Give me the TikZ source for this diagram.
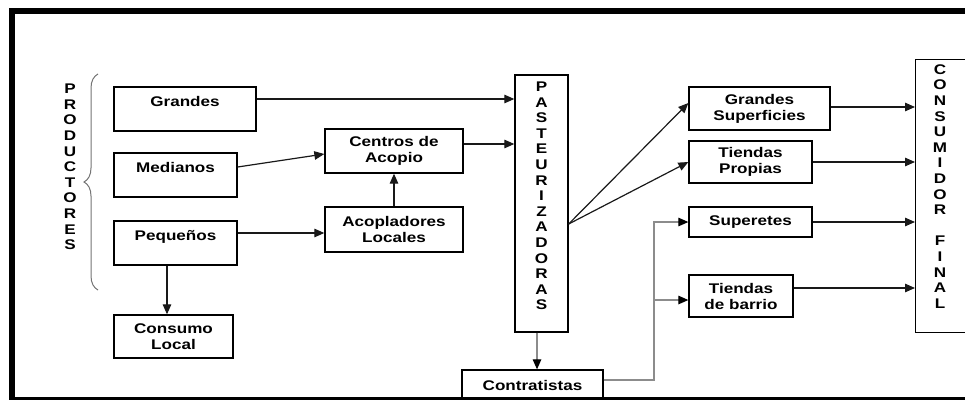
\documentclass[tikz,border=0pt]{standalone}
\usepackage{fontspec}
\setmainfont{Liberation Sans}[FakeStretch=1.22]
\usetikzlibrary{arrows.meta,decorations.pathreplacing}
\begin{document}
\begin{tikzpicture}[x=1pt,y=-1pt,
  box/.style={draw=black, line width=1.3pt, inner sep=0pt, align=center,
              font=\bfseries\fontsize{14}{16}\selectfont},
  vtext/.style={align=center, inner sep=0pt,
                font=\bfseries\fontsize{14}{15.6}\selectfont},
  arr/.style={draw=black!90, line width=1.2pt, -{Triangle[length=10pt,width=8.5pt]}},
  garr/.style={draw=black!45, line width=1.2pt, -{Triangle[length=10pt,width=8.5pt,color=black]}},
  gline/.style={draw=black!45, line width=1.2pt}]
\useasboundingbox (0,0) rectangle (965,399);

% producers
\node[vtext] (prod) at (70,167) {P\\R\\O\\D\\U\\C\\T\\O\\R\\E\\S};
\draw[decorate, decoration={brace, amplitude=14pt}, draw=black!55, line width=1pt]
  (98,290) -- (98,74);
\node[box, minimum width=142, minimum height=44] (gra) at (185,109) {Grandes\\\mbox{}};
\node[box, minimum width=123, minimum height=44] (med) at (175.5,175) {Medianos\\\mbox{}};
\node[box, minimum width=123, minimum height=44] (peq) at (175.5,243) {Pequeños\\\mbox{}};
\node[box, minimum width=119, minimum height=43] (cons) at (173.5,336.5) {Consumo\\Local};

% collection
\node[box, minimum width=138, minimum height=44] (cen) at (394,151) {Centros de\\Acopio};
\node[box, minimum width=138, minimum height=45] (aco) at (394,229.5) {Acopladores\\Locales};

% processing
\node[box, minimum width=53, minimum height=257] (pas) at (541.5,203.5) {};
\node[vtext] (past) at (541.5,196) {P\\A\\S\\T\\E\\U\\R\\I\\Z\\A\\D\\O\\R\\A\\S};
\node[box, minimum width=141, minimum height=30] (con) at (532.5,385) {Contratistas};

% retail
\node[box, minimum width=141, minimum height=43] (gsup) at (759.5,108.5) {Grandes\\Superficies};
\node[box, minimum width=123, minimum height=42] (tpro) at (750.5,162) {Tiendas\\Propias};
\node[box, minimum width=123, minimum height=30] (sup) at (750.5,222) {Superetes};
\node[box, minimum width=104, minimum height=42] (tba) at (741,296) {Tiendas\\de barrio};

% final consumer
\node[box, minimum width=100, minimum height=273, anchor=north west] (cf) at (915,59) {};
\node[vtext] (cft) at (940,186.5) {C\\O\\N\\S\\U\\M\\I\\D\\O\\R\\[15.6pt]F\\I\\N\\A\\L};

% connector end points offset from node centres
\coordinate (graout) at ([yshift=10pt]gra.east);
\coordinate (cenout) at ([yshift=7pt]cen.east);
\coordinate (medout) at ([yshift=8pt]med.east);
\coordinate (cenin)  at ([yshift=-3pt]cen.west);
\coordinate (peqout) at ([yshift=10pt]peq.east);
\coordinate (peqdown) at ([xshift=-8.5pt]peq.south);
\coordinate (pasout) at ([yshift=-20.5pt]pas.east);
\coordinate (gsupin) at ([yshift=5.5pt]gsup.west);
\coordinate (gsupout) at ([yshift=1.5pt]gsup.east);
\coordinate (tbaout) at ([yshift=8pt]tba.east);
\coordinate (pasdown) at ([xshift=-4.5pt]pas.south);
\coordinate (conout) at ([yshift=5pt]con.east);
\coordinate (split) at (654,300);

% connectors
\draw[arr] (graout) -- (pas.west |- graout);
\draw[arr] (cenout) -- (pas.west |- cenout);
\draw[arr] (medout) -- (cenin);
\draw[arr] (peqout) -- (aco.west |- peqout);
\draw[arr] (aco.north) -- (cen.south);
\draw[arr] (peqdown) -- (cons.north -| peqdown);
\draw[arr] (pasout) -- (gsupin);
\draw[arr] (pasout) -- (tpro.west);
\draw[arr] (gsupout) -- (cf.west |- gsupout);
\draw[arr] (tpro.east) -- (cf.west |- tpro.east);
\draw[arr] (sup.east) -- (cf.west |- sup.east);
\draw[arr] (tbaout) -- (cf.west |- tbaout);
\draw[garr] (pasdown) -- (con.north -| pasdown);
\draw[gline] (conout) -| (split);
\draw[garr] (split) |- (sup.west);
\draw[garr] (split) -- (tba.west |- split);

% frame
\draw[line width=6pt] (11.5,11) rectangle (1000,399.5);
\end{tikzpicture}
\end{document}
